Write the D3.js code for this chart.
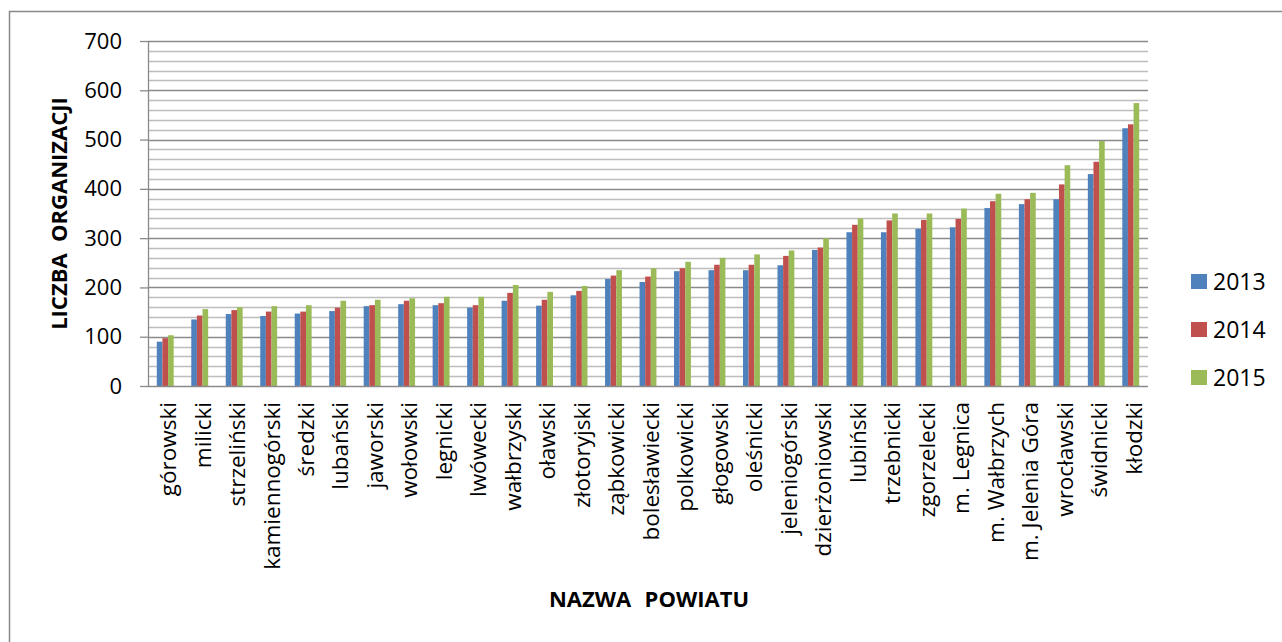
<!DOCTYPE html>
<html>
<head>
<meta charset="utf-8">
<script src="https://cdn.jsdelivr.net/npm/d3@7"></script>
<style>
  body { margin: 0; background: #fff; }
  svg { display: block; font-family: "Open Sans", Lato, sans-serif; }
  .axis-title { font-weight: bold; white-space: pre; }
</style>
</head>
<body>
<div id="chart"></div>
<script>
const districts = [
  "górowski", "milicki", "strzeliński", "kamiennogórski", "średzki", "lubański",
  "jaworski", "wołowski", "legnicki", "lwówecki", "wałbrzyski", "oławski",
  "złotoryjski", "ząbkowicki", "bolesławiecki", "polkowicki", "głogowski",
  "oleśnicki", "jeleniogórski", "dzierżoniowski", "lubiński", "trzebnicki",
  "zgorzelecki", "m. Legnica", "m. Wałbrzych", "m. Jelenia Góra", "wrocławski",
  "świdnicki", "kłodzki"
];
const years = ["2013", "2014", "2015"];
const values2013 = [90, 135, 146, 142, 147, 152, 162, 166, 164, 159, 173, 163,
  184, 217, 211, 233, 235, 235, 245, 276, 312, 312, 319, 322, 361, 369, 379, 430, 523];
const values2014 = [97, 143, 154, 151, 151, 159, 164, 173, 168, 164, 189, 175,
  193, 224, 222, 239, 246, 246, 264, 281, 327, 336, 337, 339, 375, 379, 409, 455, 531];
const values2015 = [103, 156, 160, 162, 164, 173, 175, 178, 181, 181, 205, 191,
  203, 235, 239, 252, 260, 267, 275, 300, 340, 350, 350, 360, 390, 392, 448, 497, 574];
const yTicks = [0, 100, 200, 300, 400, 500, 600, 700];
const yTitle = "LICZBA  ORGANIZACJI";
const xTitle = "NAZWA  POWIATU";

const colors = ["#4F81BD", "#C0504D", "#9BBB59"];
const series = [values2013, values2014, values2015];

const width = 1282;
const height = 642;
const marginLeft = 148;
const marginRight = 134;
const marginTop = 41;
const plotBottom = 386;

const svg = d3.select("#chart").append("svg")
  .attr("width", width)
  .attr("height", height);

// outer chart frame (right and bottom edges sit outside the window)
svg.append("rect")
  .attr("x", 9.5).attr("y", 11.5)
  .attr("width", 1300).attr("height", 660)
  .attr("fill", "none").attr("stroke", "#888").attr("stroke-width", 1.5);

const x0 = d3.scaleBand()
  .domain(districts)
  .range([marginLeft, width - marginRight])
  .paddingInner(0.51)
  .paddingOuter(0.255);

const x1 = d3.scaleBand()
  .domain(years)
  .range([0, x0.bandwidth()]);

const y = d3.scaleLinear()
  .domain([0, 700])
  .range([plotBottom, marginTop]);

// gridlines: minor every 20, major every 100
const gGrid = svg.append("g").attr("class", "grid-g");
gGrid.selectAll("line.minor")
  .data(d3.range(20, 701, 20).filter((d) => d % 100 !== 0))
  .join("line")
  .attr("class", "minor")
  .attr("x1", marginLeft).attr("x2", width - marginRight)
  .attr("y1", (d) => Math.round(y(d)) + 0.5).attr("y2", (d) => Math.round(y(d)) + 0.5)
  .attr("stroke", "#bdbdbd").attr("stroke-width", 1.3);
gGrid.selectAll("line.major")
  .data(yTicks.filter((d) => d > 0))
  .join("line")
  .attr("class", "major")
  .attr("x1", marginLeft).attr("x2", width - marginRight)
  .attr("y1", (d) => Math.round(y(d)) + 0.5).attr("y2", (d) => Math.round(y(d)) + 0.5)
  .attr("stroke", "#8a8a8a").attr("stroke-width", 1.3);

// bars
const gBars = svg.append("g").attr("class", "bars-g");
years.forEach((yr, s) => {
  gBars.append("g")
    .attr("fill", colors[s])
    .selectAll("rect")
    .data(series[s])
    .join("rect")
    .attr("x", (d, i) => x0(districts[i]) + x1(yr))
    .attr("width", x1.bandwidth())
    .attr("y", (d) => y(d))
    .attr("height", (d) => y(0) - y(d));
});

// y axis
svg.append("g")
  .attr("transform", `translate(${marginLeft},0)`)
  .call(d3.axisLeft(y).tickValues(yTicks).tickSize(8).tickPadding(18).tickSizeOuter(0))
  .call((g) => g.selectAll("line, path").attr("stroke", "#8a8a8a").attr("stroke-width", 1.3))
  .call((g) => g.selectAll("text").attr("fill", "#000").style("font-size", "22px")
    .style("font-family", "'Open Sans', sans-serif"));

// x axis baseline
svg.append("line")
  .attr("x1", marginLeft).attr("x2", width - marginRight)
  .attr("y1", y(0) + 0.5).attr("y2", y(0) + 0.5)
  .attr("stroke", "#8a8a8a").attr("stroke-width", 1.5);

// category labels
svg.append("g").attr("class", "labels-g")
  .selectAll("text")
  .data(districts)
  .join("text")
  .attr("transform", (d) => `translate(${x0(d) + x0.bandwidth() / 2},${plotBottom + 16}) rotate(-90)`)
  .attr("text-anchor", "end")
  .attr("dy", "0.48em")
  .style("font-size", "22.5px")
  .text((d) => d);

// axis titles
svg.append("text")
  .attr("class", "axis-title")
  .attr("transform", `translate(67,${(marginTop + plotBottom) / 2}) rotate(-90)`)
  .attr("text-anchor", "middle")
  .style("font-size", "22px")
  .text(yTitle);

svg.append("text")
  .attr("class", "axis-title")
  .attr("x", 649).attr("y", 607)
  .attr("text-anchor", "middle")
  .style("font-size", "22px")
  .style("word-spacing", "1px")
  .text(xTitle);

// legend
const legend = svg.append("g").attr("class", "legend-g")
  .selectAll("g")
  .data(years)
  .join("g")
  .attr("transform", (d, i) => `translate(1191,${274 + i * 48})`);
legend.append("rect")
  .attr("width", 16).attr("height", 15)
  .attr("fill", (d, i) => colors[i]);
legend.append("text")
  .attr("x", 22).attr("y", 7.5).attr("dy", "0.36em")
  .style("font-size", "23px")
  .text((d) => d);
</script>
</body>
</html>
